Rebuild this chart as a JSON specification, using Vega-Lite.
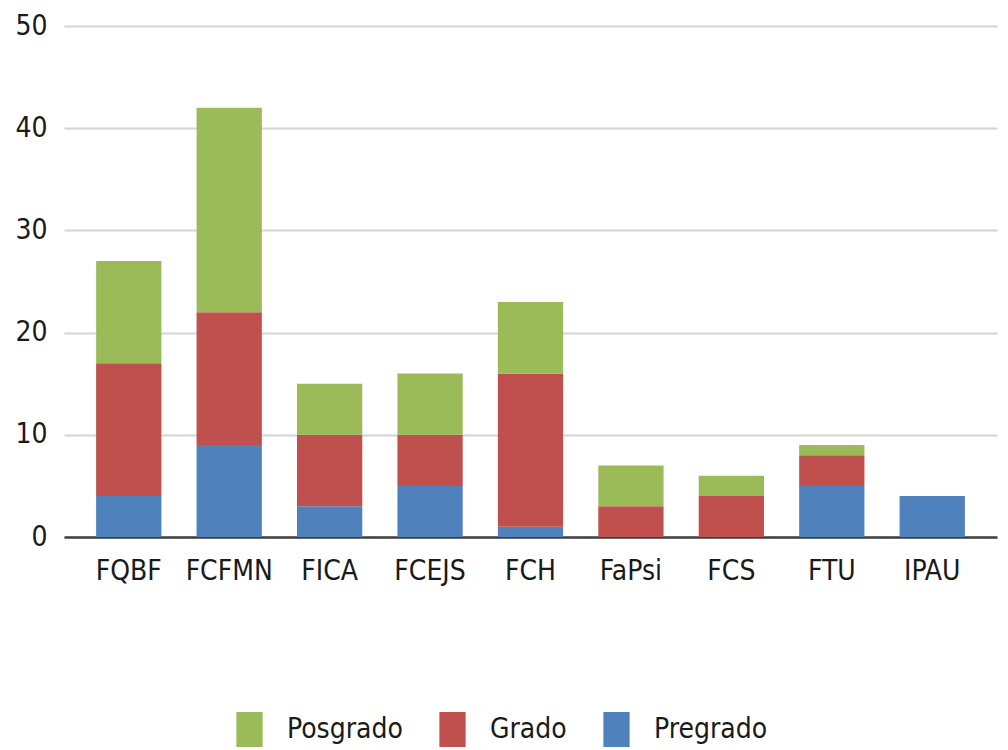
{
  "$schema": "https://vega.github.io/schema/vega-lite/v6.json",
  "autosize": "none",
  "width": 933,
  "height": 511,
  "padding": {"left": 64, "top": 26, "right": 11, "bottom": 213},
  "background": "white",
  "config": {"view": {"stroke": null}, "font": "DejaVu Sans Condensed, Open Sans, sans-serif"},
  "data": {"values": [
    {"facultad": "FQBF", "nivel": "Pregrado", "orden": 1, "valor": 4},
    {"facultad": "FQBF", "nivel": "Grado", "orden": 2, "valor": 13},
    {"facultad": "FQBF", "nivel": "Posgrado", "orden": 3, "valor": 10},
    {"facultad": "FCFMN", "nivel": "Pregrado", "orden": 1, "valor": 9},
    {"facultad": "FCFMN", "nivel": "Grado", "orden": 2, "valor": 13},
    {"facultad": "FCFMN", "nivel": "Posgrado", "orden": 3, "valor": 20},
    {"facultad": "FICA", "nivel": "Pregrado", "orden": 1, "valor": 3},
    {"facultad": "FICA", "nivel": "Grado", "orden": 2, "valor": 7},
    {"facultad": "FICA", "nivel": "Posgrado", "orden": 3, "valor": 5},
    {"facultad": "FCEJS", "nivel": "Pregrado", "orden": 1, "valor": 5},
    {"facultad": "FCEJS", "nivel": "Grado", "orden": 2, "valor": 5},
    {"facultad": "FCEJS", "nivel": "Posgrado", "orden": 3, "valor": 6},
    {"facultad": "FCH", "nivel": "Pregrado", "orden": 1, "valor": 1},
    {"facultad": "FCH", "nivel": "Grado", "orden": 2, "valor": 15},
    {"facultad": "FCH", "nivel": "Posgrado", "orden": 3, "valor": 7},
    {"facultad": "FaPsi", "nivel": "Pregrado", "orden": 1, "valor": 0},
    {"facultad": "FaPsi", "nivel": "Grado", "orden": 2, "valor": 3},
    {"facultad": "FaPsi", "nivel": "Posgrado", "orden": 3, "valor": 4},
    {"facultad": "FCS", "nivel": "Pregrado", "orden": 1, "valor": 0},
    {"facultad": "FCS", "nivel": "Grado", "orden": 2, "valor": 4},
    {"facultad": "FCS", "nivel": "Posgrado", "orden": 3, "valor": 2},
    {"facultad": "FTU", "nivel": "Pregrado", "orden": 1, "valor": 5},
    {"facultad": "FTU", "nivel": "Grado", "orden": 2, "valor": 3},
    {"facultad": "FTU", "nivel": "Posgrado", "orden": 3, "valor": 1},
    {"facultad": "IPAU", "nivel": "Pregrado", "orden": 1, "valor": 4},
    {"facultad": "IPAU", "nivel": "Grado", "orden": 2, "valor": 0},
    {"facultad": "IPAU", "nivel": "Posgrado", "orden": 3, "valor": 0}
  ]},
  "mark": {"type": "bar"},
  "encoding": {
    "x": {
      "field": "facultad", "type": "nominal",
      "sort": ["FQBF", "FCFMN", "FICA", "FCEJS", "FCH", "FaPsi", "FCS", "FTU", "IPAU"],
      "scale": {"paddingInner": 0.35, "paddingOuter": 0.32},
      "axis": {
        "title": null, "labelAngle": 0, "labelFontSize": 28, "labelColor": "#1a1a1a",
        "labelPadding": 20, "ticks": false, "domainColor": "#404040", "domainWidth": 2.5,
        "grid": false
      }
    },
    "y": {
      "field": "valor", "type": "quantitative", "aggregate": "sum",
      "scale": {"domain": [0, 50], "nice": false},
      "axis": {
        "title": null, "values": [0, 10, 20, 30, 40, 50], "labelFontSize": 28,
        "labelColor": "#1a1a1a", "labelPadding": 17, "ticks": false, "domain": false,
        "gridColor": "#D4D4D4", "gridWidth": 2
      }
    },
    "order": {"field": "orden", "type": "quantitative", "sort": "ascending"},
    "color": {
      "field": "nivel", "type": "nominal",
      "sort": ["Posgrado", "Grado", "Pregrado"],
      "scale": {"domain": ["Posgrado", "Grado", "Pregrado"], "range": ["#9BBB59", "#C0504D", "#4F81BD"]},
      "legend": {
        "title": null, "orient": "none", "direction": "horizontal",
        "legendX": 168, "legendY": 686, "labelFontSize": 28, "labelColor": "#1a1a1a",
        "symbolType": "M-0.75,-1H0.75V1H-0.75Z", "symbolSize": 1225, "symbolStrokeWidth": 0,
        "symbolOpacity": 1, "labelOffset": 20, "columnPadding": 32
      }
    }
  }
}
